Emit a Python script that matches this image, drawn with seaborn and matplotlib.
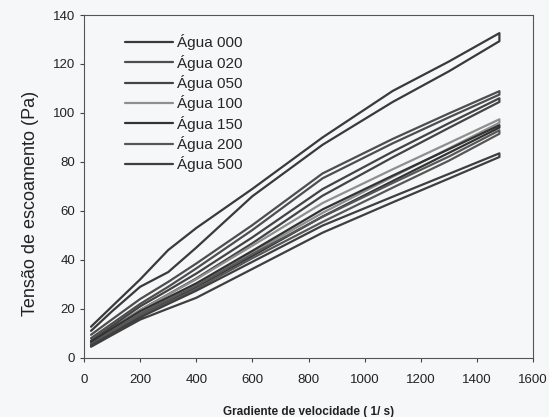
import numpy as np
import pandas as pd
import matplotlib
matplotlib.use("Agg")
import matplotlib.pyplot as plt
import seaborn as sns

# ── Data ──────────────────────────────────────────────────────────────────────
series = ["Água 000", "Água 020", "Água 050", "Água 100",
          "Água 150", "Água 200", "Água 500"]

# shear rate grid for the up curve; the down curve runs back over the same grid
gamma_up = [25, 100, 200, 300, 400, 600, 850, 1100, 1300, 1480]

tau_up = {
    "Água 000": [12.7, 21.0, 32.0, 44.0, 53.0, 69.0, 90.0, 109.0, 121.0, 132.6],
    "Água 020": [9.4, 15.7, 24.0, 31.0, 38.5, 54.2, 75.3, 89.4, 99.8, 108.9],
    "Água 050": [7.0, 13.0, 21.0, 27.6, 34.4, 49.2, 68.9, 84.2, 95.8, 106.0],
    "Água 100": [6.0, 11.8, 19.5, 25.8, 32.1, 45.8, 63.2, 77.0, 87.7, 97.4],
    "Água 150": [6.5, 11.9, 19.0, 24.7, 30.4, 43.7, 60.6, 74.4, 85.2, 95.0],
    "Água 200": [5.5, 10.9, 18.0, 23.7, 29.4, 42.3, 57.6, 71.4, 82.2, 92.9],
    "Água 500": [5.0, 9.9, 16.5, 22.0, 27.4, 39.2, 54.0, 65.8, 75.1, 83.5],
}
# down curves, listed from high to low shear rate
tau_down = {
    "Água 000": [129.3, 117.0, 104.5, 87.0, 66.0, 45.0, 35.0, 29.0, 19.0, 11.0],
    "Água 020": [107.5, 98.2, 87.6, 73.3, 52.2, 36.5, 29.0, 22.0, 14.0, 8.0],
    "Água 050": [104.5, 93.9, 81.9, 66.2, 46.8, 32.4, 25.9, 19.5, 12.0, 6.5],
    "Água 100": [96.0, 85.5, 73.9, 59.2, 43.0, 30.1, 24.0, 18.0, 10.9, 5.5],
    "Água 150": [94.0, 83.7, 72.2, 57.7, 41.6, 28.9, 23.2, 17.5, 10.6, 5.5],
    "Água 200": [91.5, 80.5, 69.5, 55.5, 40.7, 28.1, 22.5, 17.0, 10.1, 5.0],
    "Água 500": [82.0, 73.2, 63.5, 51.1, 36.3, 24.5, 20.1, 15.6, 9.3, 4.5],
}

colors = ["#3a3a3a", "#4e4e4e", "#444444", "#8f8f8f",
          "#333333", "#575757", "#3f3f3f"]

# ── Long-form table, each series as a closed hysteresis path ─────────────────
rows = []
for s in series:
    gam = gamma_up + gamma_up[::-1]
    tau = tau_up[s] + tau_down[s]
    for g_, t_ in zip(gam, tau):
        rows.append({"gamma": g_, "tau": t_, "serie": s})
df = pd.DataFrame(rows)

# ── Plot ──────────────────────────────────────────────────────────────────────
sns.set_style("ticks")
plt.rcParams["font.family"] = ["Liberation Sans", "DejaVu Sans"]

bg = "#f6f7f9"
fig, ax = plt.subplots(figsize=(5.49, 4.17), dpi=100)
fig.patch.set_facecolor(bg)
ax.set_facecolor(bg)
fig.subplots_adjust(left=0.153, right=0.971, top=0.964, bottom=0.142)

sns.lineplot(data=df, x="gamma", y="tau", hue="serie", hue_order=series,
             palette=dict(zip(series, colors)), sort=False, estimator=None,
             linewidth=1.6, ax=ax)

ax.set_xlim(0, 1600)
ax.set_ylim(0, 140)
ax.set_xticks(np.arange(0, 1601, 200))
ax.set_yticks(np.arange(0, 141, 20))
ax.tick_params(axis="both", labelsize=9.5, length=3, width=0.8,
               color="#444444", labelcolor="#222222")
ax.tick_params(axis="x", pad=9)
for sp in ax.spines.values():
    sp.set_visible(True)
    sp.set_linewidth(0.8)
    sp.set_color("#555555")

ax.set_ylabel("Tensão de escoamento (Pa)", fontsize=13, color="#222222")
ax.yaxis.set_label_coords(-0.10, 0.45)
ax.set_xlabel("Gradiente de velocidade ( 1/ s)", fontsize=8.5,
              fontweight="bold", color="#222222", labelpad=14)

ax.legend(loc="upper left", bbox_to_anchor=(0.07, 0.97), frameon=False,
          fontsize=11, handlelength=3.2, handletextpad=0.25,
          labelspacing=0.28, borderaxespad=0.2)

plt.savefig("out.png", dpi=100, facecolor=bg)
